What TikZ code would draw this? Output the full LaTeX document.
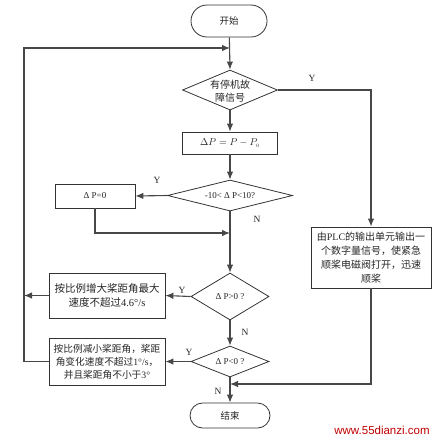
\documentclass[tikz,border=0pt]{standalone}
\usepackage{fontspec}
\setmainfont{Liberation Serif}
\newfontfamily\cjk{Noto Sans CJK SC}
\newfontfamily\wsans{Liberation Sans}
\usetikzlibrary{arrows.meta,shapes.geometric}
\begin{document}
\begin{tikzpicture}[x=1pt,y=-1pt,
  line/.style={draw=black!72, line width=1.1pt},
  arr/.style={line, -{Latex[length=8pt,width=6.5pt]}},
  term/.style={draw=black!80, line width=0.8pt, rounded corners=#1, inner sep=0pt, text=black!85, font=\cjk\fontsize{9.5}{11}\selectfont},
  pbox/.style={draw=black!80, line width=0.8pt, inner sep=0pt, align=center, text=black!85, font=\cjk\fontsize{10}{13.5}\selectfont},
  dmd/.style={draw=black!80, line width=0.8pt, diamond, inner sep=0pt},
  dtxt/.style={inner sep=0pt, align=center, text=black!85, font=\fontsize{9.5}{13}\selectfont},
  yn/.style={inner sep=0pt, text=black!85, font=\fontsize{9.5}{11}\selectfont}
]
\useasboundingbox (0,0) rectangle (443,442);

% nodes
\node[term=16pt, minimum width=76pt, minimum height=32pt] (start) at (229,21) {开始};
\node[dmd, minimum width=95pt, minimum height=40pt] (d1) at (230,90) {};
\node[dtxt, font=\cjk\fontsize{10}{13}\selectfont] (t1) at (230,91) {有停机故\\障信号};
\node[pbox, minimum width=95pt, minimum height=22pt, font=\fontsize{10}{12}\selectfont] (calc) at (230,143) {$\Delta P = P - P_{\scriptscriptstyle 0}$};
\node[dmd, minimum width=125pt, minimum height=31pt] (d2) at (230,195.5) {};
\node[dtxt, font=\fontsize{9}{11}\selectfont] (t2) at (230,196) {-10< Δ P<10?};
\node[pbox, minimum width=80pt, minimum height=24pt, font=\fontsize{9}{11}\selectfont] (z) at (95,196) {Δ P=0};
\node[dmd, minimum width=78pt, minimum height=47pt] (d3) at (230,296.5) {};
\node[dtxt, font=\fontsize{9}{11}\selectfont] (t3) at (230,297) {Δ P>0 ?};
\node[pbox, minimum width=116pt, minimum height=45pt, font=\cjk\fontsize{10.5}{14}\selectfont] (inc) at (107,295.5) {按比例增大桨距角最大\\速度不超过{\rmfamily 4.6°/s}};
\node[dmd, minimum width=78pt, minimum height=31pt] (d4) at (230,361.5) {};
\node[dtxt, font=\fontsize{9}{11}\selectfont] (t4) at (230,362) {Δ P<0 ?};
\node[pbox, minimum width=116pt, minimum height=47pt, font=\cjk\fontsize{9.7}{13}\selectfont] (dec) at (107,361.5) {按比例减小桨距角，桨距\\角变化速度不超过{\rmfamily 1°/s}，\\并且桨距角不小于{\rmfamily 3°}};
\node[pbox, minimum width=120pt, minimum height=61pt, font=\cjk\fontsize{10}{14}\selectfont] (plc) at (371,257.5) {由{\rmfamily PLC}的输出单元输出一\\个数字量信号，使紧急\\顺桨电磁阀打开，迅速\\顺桨};
\node[term=12.5pt, minimum width=80pt, minimum height=25pt] (end) at (230,415.5) {结束};

\coordinate (j0) at (230,48);
\coordinate (ltop) at (24,48);
\coordinate (lmid) at (24,295.5);
\coordinate (j1) at (230,233);
\coordinate (j2) at (230,384);

% connectors
\draw[arr] (start) -- (d1.north);
\draw[arr] (d1) -- (calc);
\draw[arr] (calc) -- (d2);
\draw[arr] (d2.south) -- (d3.north);
\draw[arr] (d2.west) -- (z.east);
\draw[arr] (z.south) |- (j1);
\draw[arr] (d3.west) -- (inc.east);
\draw[arr] (d3.south) -- (d4.north);
\draw[arr] (d4.west) -- (dec.east);
\draw[arr] (d4.south) -- (end.north);
\draw[arr] (inc.west) -- (lmid);
\draw[arr] (dec.west) -| (ltop) -- (j0);
\draw[arr] (d1.east) -| (plc.north);
\draw[arr] (plc.south) |- (j2);

% labels
\node[yn] (y1) at (312,78) {Y};
\node[yn] (y2) at (157,180) {Y};
\node[yn] (n2) at (257,219) {N};
\node[yn] (y3) at (182,290) {Y};
\node[yn] (n3) at (245,332) {N};
\node[yn] (y4) at (189,352) {Y};
\node[yn] (n4) at (218,391) {N};

\node[inner sep=0pt, text=red!75!black, font=\wsans\fontsize{11.5}{13}\selectfont] (web) at (382,430) {www.55dianzi.com};
\end{tikzpicture}
\end{document}
